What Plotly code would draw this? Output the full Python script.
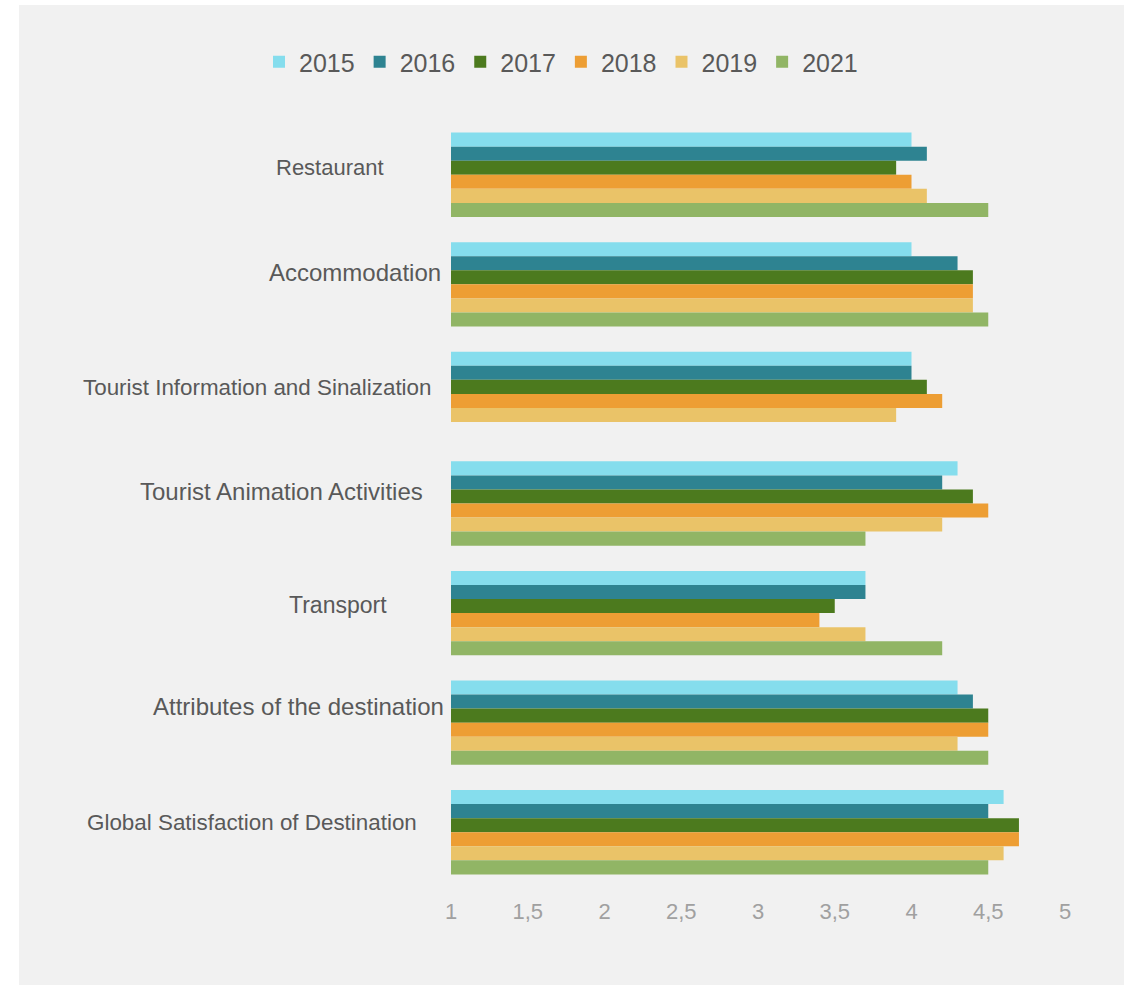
import plotly.graph_objects as go

# Satisfaction scores (1-5 scale) per destination attribute and survey year
categories = [
    "Restaurant",
    "Accommodation",
    "Tourist Information and Sinalization",
    "Tourist Animation Activities",
    "Transport",
    "Attributes of the destination",
    "Global Satisfaction of Destination",
]
years = ["2015", "2016", "2017", "2018", "2019", "2021"]

scores_2015 = [4.0, 4.0, 4.0, 4.3, 3.7, 4.3, 4.6]
scores_2016 = [4.1, 4.3, 4.0, 4.2, 3.7, 4.4, 4.5]
scores_2017 = [3.9, 4.4, 4.1, 4.4, 3.5, 4.5, 4.7]
scores_2018 = [4.0, 4.4, 4.2, 4.5, 3.4, 4.5, 4.7]
scores_2019 = [4.1, 4.4, 3.9, 4.2, 3.7, 4.3, 4.6]
scores_2021 = [4.5, 4.5, None, 3.7, 4.2, 4.5, 4.5]

x_ticks = [1, 1.5, 2, 2.5, 3, 3.5, 4, 4.5, 5]

series = [scores_2015, scores_2016, scores_2017, scores_2018, scores_2019, scores_2021]
colors = ["#85DDED", "#2E8391", "#4C7A1E", "#ED9E34", "#EAC368", "#91B565"]

# Page geometry (pixels)
W, H = 1124, 987
L, R, T, B = 451, 59, 120, 100
PW, PH = W - L - R, H - T - B


def px_x(px):
    return (px - L) / PW


def px_y(py):
    return 1 - (py - T) / PH


fig = go.Figure()
for name, vals, col in zip(years, series, colors):
    fig.add_trace(go.Bar(
        y=categories, x=vals, name=name, orientation="h",
        marker=dict(color=col, line=dict(width=0)),
    ))

# Category labels drawn as free text (individual size / placement)
label_style = [
    (330, 7, 22),
    (355, 12, 24),
    (257, 6, 22.4),
    (281, 12, 24),
    (338, 8, 23),
    (298, 16, 24),
    (252, 10, 22.4),
]
annotations = []
for cat, (cx, dy, fs) in zip(categories, label_style):
    annotations.append(dict(
        x=px_x(cx), xref="paper", y=cat, yref="y", yshift=dy,
        text=cat, showarrow=False, xanchor="center", yanchor="middle",
        font=dict(family="Liberation Sans, Arial, sans-serif", size=fs, color="#595959"),
    ))

fig.update_layout(
    width=W, height=H,
    margin=dict(l=L, r=R, t=T, b=B, pad=0),
    paper_bgcolor="white",
    plot_bgcolor="rgba(0,0,0,0)",
    barmode="group",
    bargap=0.23,
    bargroupgap=0,
    separators=", ",
    font=dict(family="Liberation Sans, Arial, sans-serif", color="#595959"),
    legend=dict(
        orientation="h", x=px_x(561), xanchor="center", y=px_y(62), yanchor="middle",
        font=dict(size=25, color="#595959"), bgcolor="rgba(0,0,0,0)",
        traceorder="normal",
    ),
    xaxis=dict(
        range=[1, 5], tickvals=x_ticks, showgrid=False, zeroline=False,
        showline=False, ticks="", ticklabelstandoff=9,
        tickfont=dict(size=22, color="#A0A0A0"),
    ),
    yaxis=dict(
        autorange="reversed", showticklabels=False, showgrid=False,
        zeroline=False, showline=False, ticks="",
    ),
    annotations=annotations,
    shapes=[dict(
        type="rect", xref="paper", yref="paper", layer="below",
        x0=px_x(19), x1=px_x(1124), y0=px_y(985), y1=px_y(5),
        fillcolor="#F1F1F1", line=dict(width=0),
    )],
)

fig.write_html("out.html")
